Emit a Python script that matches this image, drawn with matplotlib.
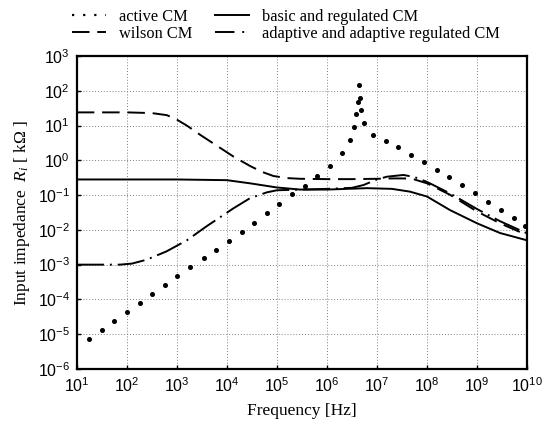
from matplotlib import pyplot as plt
from matplotlib.lines import Line2D
from matplotlib.ticker import FixedLocator, FuncFormatter, NullLocator
import numpy as np

plt.rcParams['font.family'] = ['Liberation Serif', 'DejaVu Serif']
plt.rcParams['mathtext.fontset'] = 'custom'
plt.rcParams['mathtext.rm'] = 'Liberation Serif'
plt.rcParams['mathtext.it'] = 'Liberation Serif:italic'

# all values as log10 exponents (frequency in Hz, impedance in kOhm)
active_f = [1.25, 1.50, 1.75, 2.01, 2.26, 2.51, 2.77, 3.01, 3.27, 3.54, 3.78, 4.05,
            4.30, 4.55, 4.80, 5.05, 5.30, 5.56, 5.81, 6.06, 6.30, 6.46, 6.55, 6.59,
            6.62, 6.65, 6.67, 6.69, 6.74, 6.93, 7.18, 7.43, 7.69, 7.95, 8.20, 8.45,
            8.71, 8.97, 9.22, 9.47, 9.73, 9.96]
active_r = [-5.13, -4.87, -4.61, -4.36, -4.11, -3.85, -3.59, -3.34, -3.07, -2.81, -2.57, -2.32,
            -2.06, -1.79, -1.52, -1.25, -0.97, -0.73, -0.44, -0.15, 0.21, 0.59, 0.95, 1.32,
            1.67, 2.17, 1.80, 1.44, 1.07, 0.74, 0.55, 0.38, 0.16, -0.05, -0.27, -0.48,
            -0.72, -0.95, -1.19, -1.43, -1.65, -1.89]

wilson_f = [1.0, 1.5, 2.0, 2.5, 2.8, 3.0, 3.2, 3.46, 3.8, 4.13, 4.46, 4.7, 4.93, 5.2,
            5.46, 6.0, 6.5, 7.0, 7.3, 7.55, 7.75, 8.0, 8.46, 9.0, 9.46, 10.0]
wilson_r = [1.38, 1.38, 1.38, 1.36, 1.30, 1.17, 1.00, 0.74, 0.42, 0.11, -0.16, -0.33, -0.45, -0.51,
            -0.53, -0.54, -0.54, -0.53, -0.52, -0.52, -0.55, -0.66, -0.99, -1.47, -1.81, -2.15]

basic_f = [1.0, 2.0, 3.0, 4.0, 4.46, 5.0, 5.46, 6.0, 6.8, 7.3, 7.66, 8.0, 8.46, 9.0, 9.46, 10.0]
basic_r = [-0.55, -0.55, -0.55, -0.57, -0.66, -0.78, -0.84, -0.84, -0.80, -0.82, -0.90, -1.04,
           -1.43, -1.81, -2.09, -2.30]

adaptive_f = [1.0, 1.5, 1.86, 2.1, 2.39, 2.79, 3.2, 3.59, 4.13, 4.46, 4.8, 5.0, 5.5, 6.0,
              6.5, 6.73, 7.0, 7.2, 7.53, 7.75, 8.0, 8.46, 9.0, 9.46, 10.0]
adaptive_r = [-3.0, -3.0, -3.0, -2.97, -2.86, -2.62, -2.30, -1.90, -1.38, -1.09, -0.92, -0.86,
              -0.84, -0.82, -0.79, -0.71, -0.55, -0.47, -0.42, -0.48, -0.62, -0.95, -1.40,
              -1.75, -2.10]

labels = ['active CM', 'wilson CM', 'basic and regulated CM',
          'adaptive and adaptive regulated CM']


def pw(a):
    return 10.0 ** np.asarray(a)


fig = plt.figure(figsize=(5.45, 4.28), dpi=100)
ax = fig.add_axes([0.141, 0.138, 0.826, 0.731])

ax.plot(pw(active_f), pw(active_r), linestyle='none', marker='o', ms=2.6, color='black')
ax.plot(pw(wilson_f), pw(wilson_r), color='black', lw=1.4, linestyle=(0, (9, 4)))
ax.plot(pw(basic_f), pw(basic_r), color='black', lw=1.4)
ax.plot(pw(adaptive_f), pw(adaptive_r), color='black', lw=1.4, linestyle=(0, (14, 3, 1, 3)))

ax.set_xscale('log')
ax.set_yscale('log')
ax.set_xlim(1e1, 1e10)
ax.set_ylim(1e-6, 1e3)

ax.xaxis.set_major_locator(FixedLocator(pw(np.arange(1, 11))))
ax.yaxis.set_major_locator(FixedLocator(pw(np.arange(-6, 4))))
ax.xaxis.set_minor_locator(NullLocator())
ax.yaxis.set_minor_locator(NullLocator())
fmt = FuncFormatter(lambda v, p: r'$\mathregular{10^{%d}}$' % round(np.log10(v)))
ax.xaxis.set_major_formatter(fmt)
ax.yaxis.set_major_formatter(fmt)
for t in ax.get_xticklabels() + ax.get_yticklabels():
    t.set_family('Liberation Sans')
    t.set_fontsize(11.5)

ax.tick_params(direction='in', length=3, width=1, pad=5)
ax.grid(True, linestyle=(0, (1, 2)), color='gray', lw=0.7)
for s in ax.spines.values():
    s.set_linewidth(1.6)

ax.set_xlabel('Frequency [Hz]', fontsize=12.5, labelpad=6)
ax.set_ylabel(r'Input impedance  $R_i$ [ k$\Omega$ ]', fontsize=12.5, labelpad=4)

handles = [
    Line2D([], [], color='black', lw=1.6, linestyle=(0, (1, 4))),
    Line2D([], [], color='black', lw=1.4, linestyle=(0, (9, 4))),
    Line2D([], [], color='black', lw=1.4),
    Line2D([], [], color='black', lw=1.4, linestyle=(0, (10, 4, 1, 6))),
]
fig.legend(handles, labels, ncol=2, frameon=False, fontsize=11.8,
           loc='upper left', bbox_to_anchor=(0.12, 0.994),
           handlelength=2.1, handletextpad=0.75, columnspacing=1.4,
           labelspacing=0.05, borderaxespad=0)

fig.savefig('out.png', dpi=100)
